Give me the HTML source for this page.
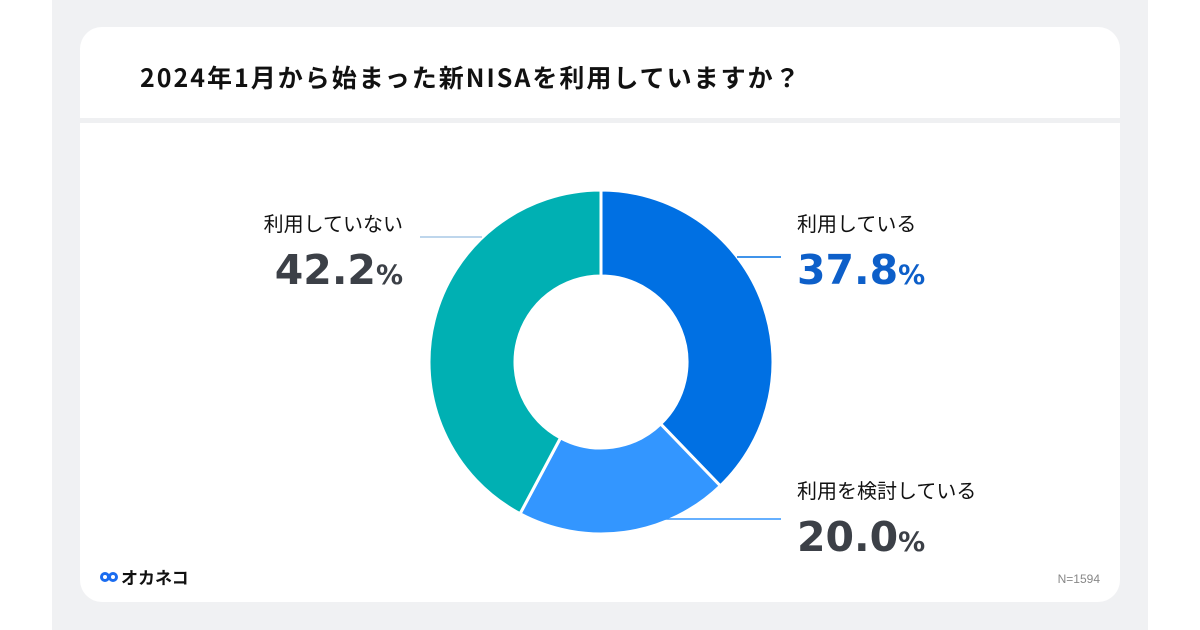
<!DOCTYPE html>
<html><head><meta charset="utf-8"><style>
body{margin:0;width:1200px;height:630px;background:#fff;overflow:hidden;font-family:"Liberation Sans","Noto Sans CJK JP",sans-serif}
#bg{position:absolute;left:52px;top:0;width:1096px;height:630px;background:#f0f1f3}
#card{position:absolute;left:80px;top:27px;width:1040px;height:575px;background:#fff;border-radius:22px;overflow:hidden}
#div{position:absolute;left:0;top:91px;width:1040px;height:5px;background:#eff0f2}
#title{position:absolute;left:60px;top:32px;font-size:25px;letter-spacing:2px;font-weight:bold;color:#111;font-family:"Noto Sans CJK JP",sans-serif;white-space:nowrap}
svg{position:absolute;left:0;top:0}
</style></head><body>
<div id="bg"></div>
<div id="card">
<div id="title">2024年1月から始まった新NISAを利用していますか？</div>
<div id="div"></div>
</div>
<svg id="chart" width="1200" height="630"></svg>
<script>
const categories=["利用している","利用を検討している","利用していない"];
const values=[37.8,20.0,42.2];
const valueLabels=["37.8","20.0","42.2"];
const colors=["#0070e3","#3396ff","#00b0b3"];
const svg=document.getElementById('chart');
const NS="http://www.w3.org/2000/svg";
const cx=601,cy=362,R=172,r=86;
const total=values.reduce((a,b)=>a+b,0);
function pt(a,rad){return [cx+rad*Math.sin(a),cy-rad*Math.cos(a)];}
function mk(t,attrs){const e=document.createElementNS(NS,t);for(const k in attrs)e.setAttribute(k,attrs[k]);svg.appendChild(e);return e;}
let acc=0;
values.forEach((v,i)=>{
 const a0=acc/total*2*Math.PI;acc+=v;const a1=acc/total*2*Math.PI;
 const [x0,y0]=pt(a0,R),[x1,y1]=pt(a1,R),[x2,y2]=pt(a1,r),[x3,y3]=pt(a0,r);
 const lg=(a1-a0)>Math.PI?1:0;
 const p=mk('path',{d:`M${x0},${y0}A${R},${R} 0 ${lg} 1 ${x1},${y1}L${x2},${y2}A${r},${r} 0 ${lg} 0 ${x3},${y3}Z`,fill:colors[i],stroke:'#fff','stroke-width':3});
 
 
});
const lab=[{x:797,y:231,anchor:'start',lx:[737,781],ly:257,lc:'#0070e3',nc:'#0d5fc9'},
 {x:797,y:498,anchor:'start',lx:[665,781],ly:519,lc:'#3396ff',nc:'#3c4047'},
 {x:403,y:231,anchor:'end',lx:[420,482],ly:237,lc:'#a9c8e6',nc:'#3c4047'}];
lab.forEach((L,i)=>{
 const ln=mk('line',{x1:L.lx[0],x2:L.lx[1],y1:L.ly,y2:L.ly,stroke:L.lc,'stroke-width':1.5});
 
 
 const t=mk('text',{x:L.x,y:L.y,'text-anchor':L.anchor,'font-size':20,fill:'#111','font-family':'"Noto Sans CJK JP",sans-serif'});
 t.textContent=categories[i];
 
 
 const n=mk('text',{x:L.x,y:L.y+53,'text-anchor':L.anchor,'font-size':41,'font-weight':'bold',fill:L.nc,'font-family':'"DejaVu Sans","Liberation Sans",sans-serif'});
 n.innerHTML=valueLabels[i]+'<tspan font-size="27">%</tspan>';
 
 
});
const nn=mk('text',{x:1100,y:583,'text-anchor':'end','font-size':12,fill:'#888'});nn.textContent='N=1594';


const logo=mk('text',{x:121,y:584,'font-size':17,'font-weight':'bold',fill:'#111','font-family':'"Noto Sans CJK JP",sans-serif'});logo.textContent='オカネコ';


const ic=mk('g',{fill:'none',stroke:'#1a6cf0','stroke-width':3});


[105,113].forEach(x=>{const c=document.createElementNS(NS,'circle');c.setAttribute('cx',x);c.setAttribute('cy',577);c.setAttribute('r',3.5);ic.appendChild(c);});
</script>
</body></html>
